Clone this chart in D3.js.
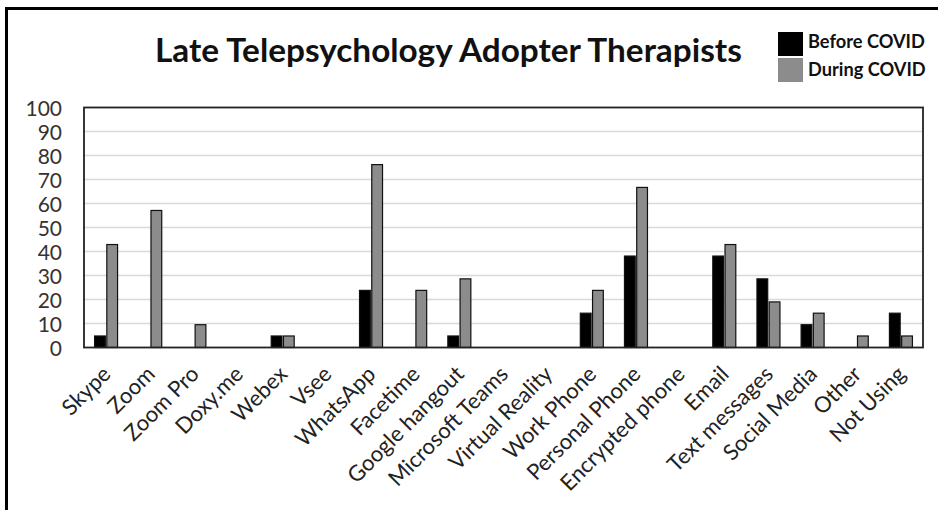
<!DOCTYPE html>
<html>
<head>
<meta charset="utf-8">
<script src="https://cdn.jsdelivr.net/npm/d3@7"></script>
<style>
  html, body { margin: 0; padding: 0; background: #fff; }
  svg { display: block; }
  text { font-family: Lato, "Open Sans", sans-serif; }
</style>
</head>
<body>
<svg id="chart" width="938" height="510"></svg>
<script>
const title = "Late Telepsychology Adopter Therapists";
const categories = ["Skype", "Zoom", "Zoom Pro", "Doxy.me", "Webex", "Vsee", "WhatsApp", "Facetime",
  "Google hangout", "Microsoft Teams", "Virtual Reality", "Work Phone", "Personal Phone",
  "Encrypted phone", "Email", "Text messages", "Social Media", "Other", "Not Using"];
const seriesNames = ["Before COVID", "During COVID"];
const beforeCovid = [4.8, 0, 0, 0, 4.8, 0, 23.8, 0, 4.8, 0, 0, 14.3, 38.1, 0, 38.1, 28.6, 9.5, 0, 14.3];
const duringCovid = [42.9, 57.1, 9.5, 0, 4.8, 0, 76.2, 23.8, 28.6, 0, 0, 23.8, 66.7, 0, 42.9, 19.0, 14.3, 4.8, 4.8];
const yTicks = [0, 10, 20, 30, 40, 50, 60, 70, 80, 90, 100];

const colors = ["#000000", "#8c8c8c"];
const W = 938, H = 510;
const m = { left: 84, right: 923, top: 107.5, bottom: 347.5 };

const svg = d3.select("#chart");

// outer frame (left and top edges visible)
svg.append("path")
  .attr("d", `M6.5,${H} V8.5 H${W}`)
  .attr("fill", "none").attr("stroke", "#000").attr("stroke-width", 3);

const x0 = d3.scaleBand().domain(categories).range([m.left, m.right]).paddingInner(0).paddingOuter(0);
const x1 = d3.scaleBand().domain(seriesNames)
  .range([x0.bandwidth() / 2 - 11.5, x0.bandwidth() / 2 + 11.5]).paddingInner(0.12);
const y = d3.scaleLinear().domain([0, 100]).range([m.bottom, m.top]);

// gridlines
svg.append("g")
  .selectAll("line").data(yTicks.filter(d => d > 0 && d < 100)).join("line")
  .attr("x1", m.left).attr("x2", m.right)
  .attr("y1", d => y(d)).attr("y2", d => y(d))
  .attr("stroke", "#d9d9d9").attr("stroke-width", 1.5);

// bars
const data = categories.map((c, i) => ({ c, vals: [beforeCovid[i], duringCovid[i]] }));
const groups = svg.append("g").selectAll("g").data(data).join("g")
  .attr("transform", d => `translate(${x0(d.c)},0)`);
groups.selectAll("rect")
  .data(d => d.vals.map((v, j) => ({ v, s: seriesNames[j], j })).filter(e => e.v > 0))
  .join("rect")
  .attr("x", e => x1(e.s))
  .attr("width", x1.bandwidth())
  .attr("y", e => y(e.v))
  .attr("height", e => y(0) - y(e.v))
  .attr("fill", e => colors[e.j])
  .attr("stroke", "#111").attr("stroke-width", 1.2);

// plot frame
svg.append("rect")
  .attr("x", m.left).attr("y", m.top)
  .attr("width", m.right - m.left).attr("height", m.bottom - m.top)
  .attr("fill", "none").attr("stroke", "#222").attr("stroke-width", 1.8);

// y axis
const yAxis = d3.axisLeft(y).tickValues(yTicks).tickSize(0).tickPadding(0);
const yg = svg.append("g").attr("transform", `translate(62,0)`).call(yAxis);
yg.select(".domain").remove();
yg.selectAll("text").attr("font-size", 21).attr("fill", "#333").attr("dy", "0.36em");

// x axis labels
const xAxis = d3.axisBottom(x0).tickSize(0).tickPadding(0);
const xg = svg.append("g").attr("transform", `translate(0,${m.bottom})`).call(xAxis);
xg.select(".domain").remove();
xg.selectAll("text")
  .attr("font-size", 22)
  .attr("fill", "#222")
  .attr("text-anchor", "end")
  .attr("dy", 0)
  .attr("y", 0)
  .attr("transform", "translate(6,28) rotate(-45)");

// title
const t = svg.append("text")
  .attr("x", 155).attr("y", 62)
  .attr("font-weight", "bold").attr("font-size", 30).attr("fill", "#111")
  .text(title);
const tl = t.node().getComputedTextLength();
t.attr("font-size", 30 * 587 / tl);

// legend
const lg = svg.append("g");
seriesNames.forEach((s, i) => {
  lg.append("rect").attr("x", 778).attr("y", 32 + i * 26).attr("width", 25).attr("height", 24)
    .attr("fill", colors[i]);
  const lt = lg.append("text").attr("x", 808).attr("y", 47.5 + i * 28)
    .attr("font-weight", "bold").attr("font-size", 18).attr("fill", "#111").text(s);
  if (i === 0) {
    const w = lt.node().getComputedTextLength();
    lt.attr("font-size", 18 * 117 / w);
  } else {
    lt.attr("font-size", lg.select("text").attr("font-size"));
  }
});
</script>
</body>
</html>
